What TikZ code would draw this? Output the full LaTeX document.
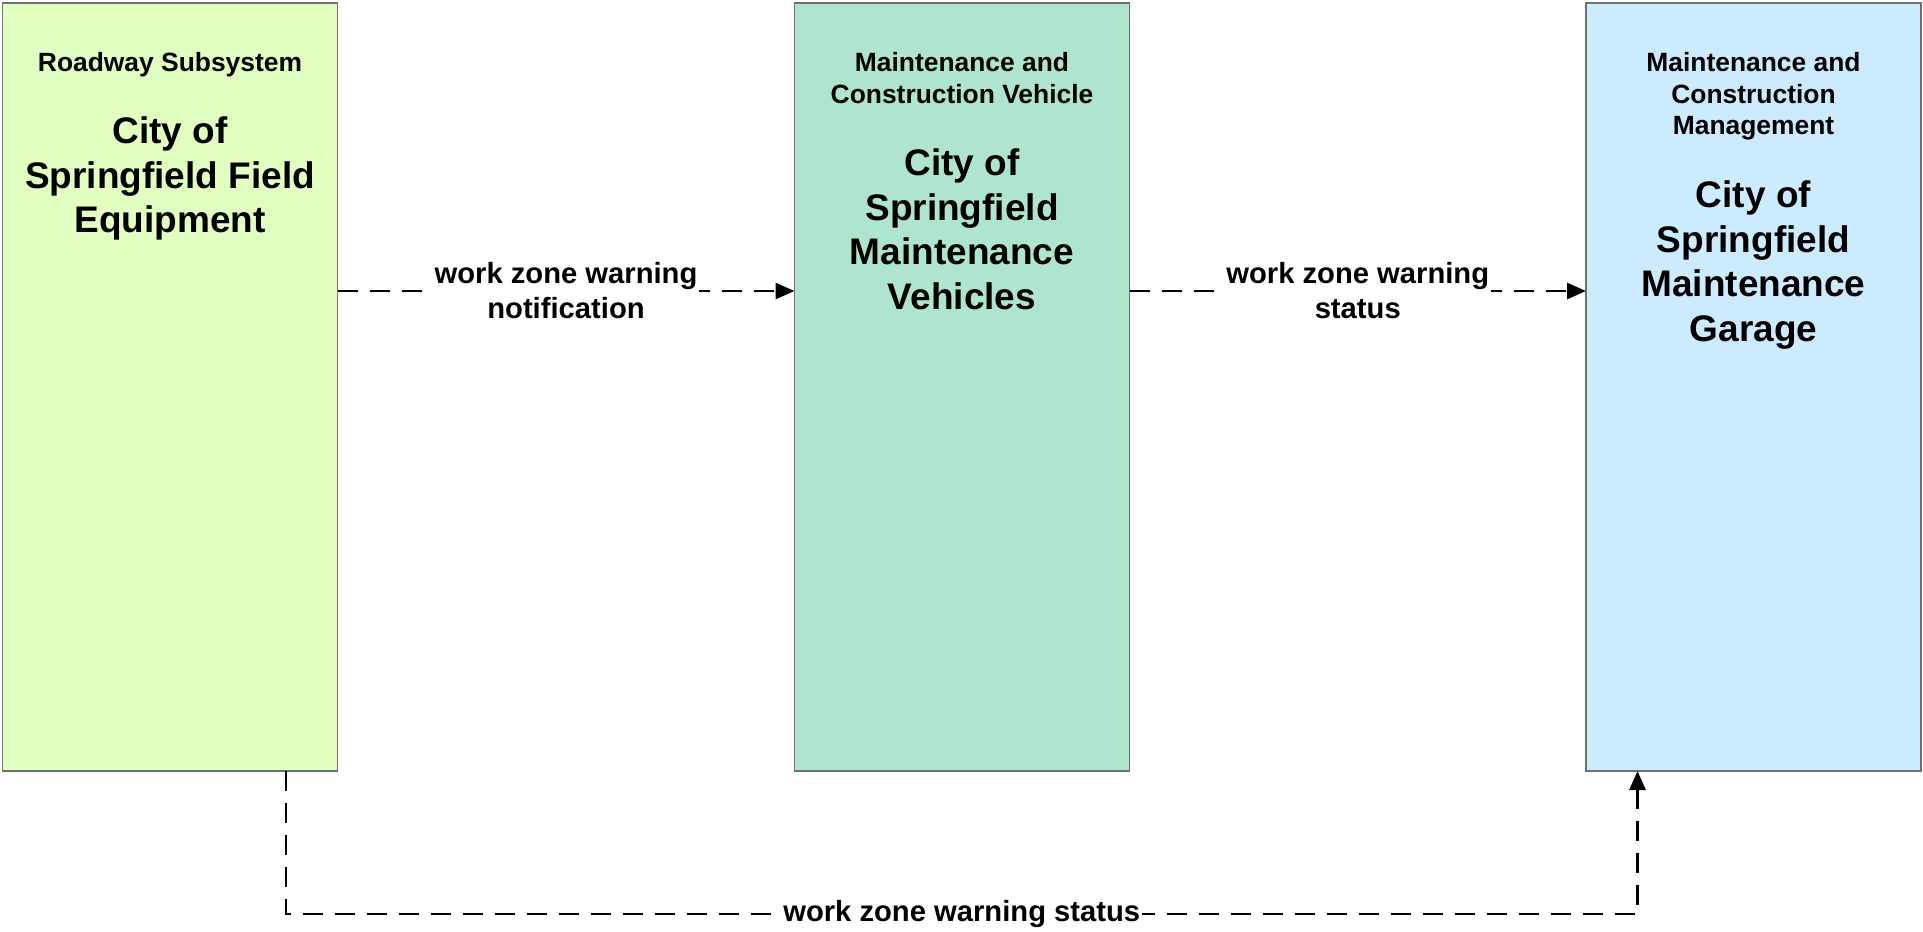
\documentclass[tikz,border=0pt]{standalone}
\usepackage{fontspec}
\setmainfont{Liberation Sans}
\usetikzlibrary{arrows.meta,positioning}
\definecolor{edge}{HTML}{707070}
\definecolor{roadway}{HTML}{E1FFC1}
\definecolor{vehicle}{HTML}{AFE4CD}
\definecolor{centre}{HTML}{CCEBFF}
\newcommand{\kindfont}{\fontsize{13.2}{15.75}\selectfont\bfseries}
\newcommand{\namefont}{\fontsize{18.5}{22.25}\selectfont\bfseries}
\newcommand{\flowfont}{\fontsize{14.6}{17.5}\selectfont\bfseries}
\newcommand{\kindgap}{24.5pt}

\begin{document}
\begin{tikzpicture}[x=0.5pt,y=0.5pt,
  unit/.style={draw=edge, line width=0.75pt, minimum width=167.5pt, minimum height=384pt, inner sep=0pt, outer sep=0pt},
  kind/.style={font=\kindfont, align=center, inner sep=0pt},
  title/.style={font=\namefont, align=center, inner sep=0pt},
  flow/.style={-{Triangle[length=9.5pt,width=8pt]}, line width=1.4pt, dash pattern=on 10pt off 6pt},
  tag/.style={font=\flowfont, align=center, fill=white, inner sep=1pt}]

\useasboundingbox (0,0) rectangle (1923,-932);

% ---------- physical objects
\node[unit, fill=roadway] (field) at (170,-387) {};
\node[unit, fill=vehicle] (vehicles) at (962,-387) {};
\node[unit, fill=centre] (garage) at (1753.5,-387) {};

% ---------- class and element names
\node[kind, below=\kindgap of field.north] (fieldkind) {Roadway Subsystem};
\node[title, below=56.75pt of field.north] (fieldname) {City of\\Springfield Field\\Equipment};

\node[kind, below=\kindgap of vehicles.north] (vehicleskind) {Maintenance and\\Construction Vehicle};
\node[title, below=72.75pt of vehicles.north] (vehiclesname) {City of\\Springfield\\Maintenance\\Vehicles};

\node[kind, below=\kindgap of garage.north] (garagekind) {Maintenance and\\Construction\\Management};
\node[title, below=88.75pt of garage.north] (garagename) {City of\\Springfield\\Maintenance\\Garage};

% ---------- flows
\coordinate (row) at (0,-291);
\coordinate (low) at (0,-914);
\coordinate (fielddrop) at ([xshift=58pt]field.south);
\coordinate (garagerise) at ([xshift=-58pt]garage.south);

\draw[flow] (field.east |- row) -- node[tag, midway] {work zone warning\\notification} (vehicles.west |- row);
\draw[flow] (vehicles.east |- row) -- node[tag, midway] {work zone warning\\status} (garage.west |- row);
\draw[flow] (fielddrop) -- (fielddrop |- low) -- node[tag, midway] {work zone warning status} (garagerise |- low) -- (garagerise);

\end{tikzpicture}
\end{document}
